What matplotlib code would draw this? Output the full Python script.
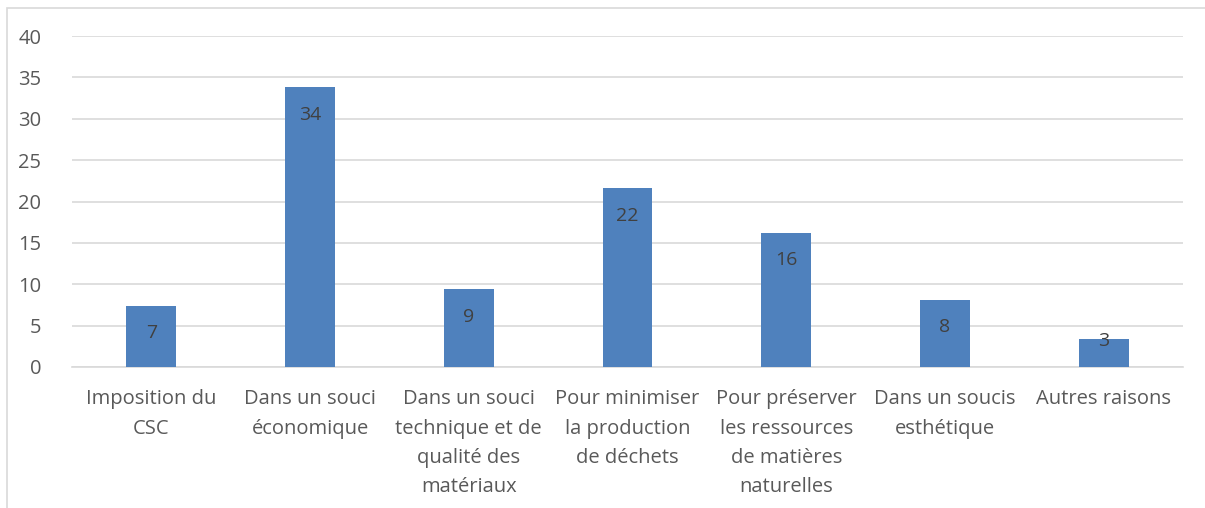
import matplotlib.pyplot as plt
from matplotlib.patches import Rectangle

# data
categories = ["Imposition du\nCSC", "Dans un souci\néconomique",
              "Dans un souci\ntechnique et de\nqualité des\nmatériaux",
              "Pour minimiser\nla production\nde déchets",
              "Pour préserver\nles ressources\nde matières\nnaturelles",
              "Dans un soucis\nesthétique", "Autres raisons"]
values = [7.4, 33.8, 9.4, 21.6, 16.2, 8.1, 3.4]
labels = ["7", "34", "9", "22", "16", "8", "3"]

text_col = "#595959"
plt.rcParams['font.family'] = ['Open Sans', 'DejaVu Sans']

fig = plt.figure(figsize=(12.05, 5.08), dpi=100)
ax = fig.add_axes([72 / 1205, 1 - 367 / 508, (1183 - 72) / 1205, (367 - 36) / 508])

x = range(len(values))
ax.bar(x, values, width=0.315, color="#4f81bd", zorder=3)
for i, (v, lab) in enumerate(zip(values, labels)):
    y = v - 3.3 if v - 3.3 > 2 else v - 0.3
    ax.text(i, y, lab, ha="center", va="center", fontsize=14, color="#404040", zorder=4)

ax.set_xlim(-0.5, len(values) - 0.5)
ax.set_ylim(0, 40)
ax.set_yticks(range(0, 41, 5))
ax.yaxis.grid(True, color="#d9d9d9", linewidth=1.2, zorder=0)
for s in ["top", "right", "left"]:
    ax.spines[s].set_visible(False)
ax.spines["bottom"].set_color("#d9d9d9")
ax.spines["bottom"].set_linewidth(1.2)
ax.tick_params(axis="both", length=0, labelsize=14.5, colors=text_col)
ax.tick_params(axis="y", pad=22)
ax.tick_params(axis="x", pad=16)
ax.set_xticks(list(x))
ax.set_xticklabels(categories, linespacing=1.62, va="top")

# outer chart frame
fig.patches.append(Rectangle((7 / 1205, -0.1), 1.2, 1 - 8 / 508 + 0.1,
                             transform=fig.transFigure, fill=False,
                             edgecolor="#d9d9d9", linewidth=1.2))

fig.savefig("out.png", dpi=100)
